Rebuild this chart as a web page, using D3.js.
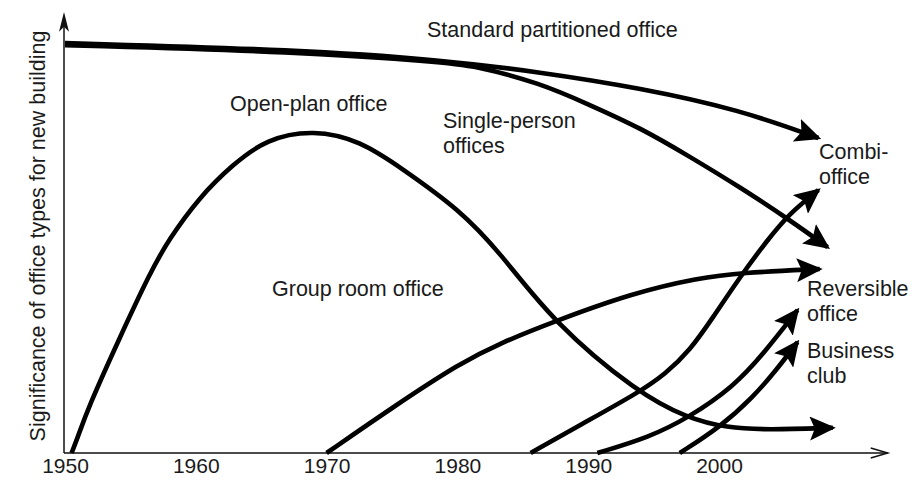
<!DOCTYPE html>
<html><head><meta charset="utf-8">
<script src="https://cdn.jsdelivr.net/npm/d3@7"></script>
<style>
body{margin:0;background:#fff}
svg text{font-family:"Liberation Sans",Arial,Helvetica,sans-serif;fill:#1a1a1a}
</style>
</head><body>
<svg id="chart" width="912" height="486"></svg>
<script>
// ---- data (year, significance 0-100) ----
const tickYears = [1950, 1960, 1970, 1980, 1990, 2000];

const standardYears  = [1950, 1968, 1978.7, 1986.3, 1994.0, 2001.6, 2007.6];
const standardValues = [97.6, 96.0, 93.6, 90.7, 86.9, 81.7, 75.0];

const singleYears  = [1950, 1968, 1978.7, 1981.2, 1986.3, 1990.1, 1994.0, 1997.8, 2001.6, 2005.4, 2008.3];
const singleValues = [97.1, 95.5, 93.1, 92.3, 88.1, 82.9, 77.4, 70.5, 63.3, 55.5, 49.0];

const openPlanYears  = [1950.5, 1950.9, 1951.8, 1954.1, 1956.5, 1957.9, 1960.3, 1962.8, 1965.4, 1969.0, 1972.6, 1975.6, 1980.2, 1983.3, 1987.3, 1993.8, 1997.6, 2000.6, 2003.7, 2008.7];
const openPlanValues = [0, 3.1, 11.0, 26.9, 42.9, 50.7, 61.0, 68.6, 74.8, 77.0, 74.3, 68.1, 57.9, 47.6, 31.2, 14.3, 8.3, 6.0, 5.5, 6.0];

const groupYears  = [1970.0, 1975.1, 1980.2, 1983.3, 1987.3, 1993.4, 1998.5, 2001.6, 2007.7];
const groupValues = [0, 11.0, 21.4, 26.2, 31.2, 38.1, 41.7, 42.9, 43.8];

const combiYears  = [1985.6, 1989.4, 1993.8, 1995.9, 1997.8, 1999.5, 2001.6, 2003.7, 2005.4, 2007.6];
const combiValues = [0, 6.7, 14.3, 18.8, 24.5, 32.1, 41.9, 50.7, 57.1, 62.6];

const reversibleYears  = [1990.7, 1994.7, 1997.6, 2001.1, 2003.5, 2006.0];
const reversibleValues = [0, 3.8, 8.3, 15.7, 24.0, 34.0];

const businessYears  = [1997.0, 2000.1, 2002.6, 2004.4, 2006.0];
const businessValues = [0, 6.2, 13.3, 19.8, 26.4];

const series = [
  {name: "standard", years: standardYears, values: standardValues},
  {name: "single", years: singleYears, values: singleValues},
  {name: "openPlan", years: openPlanYears, values: openPlanValues},
  {name: "group", years: groupYears, values: groupValues},
  {name: "combi", years: combiYears, values: combiValues},
  {name: "reversible", years: reversibleYears, values: reversibleValues},
  {name: "business", years: businessYears, values: businessValues}
];

const labels = [
  {lines: ["Standard partitioned office"], x: 427, y: 37},
  {lines: ["Open-plan office"], x: 230, y: 111},
  {lines: ["Single-person", "offices"], x: 443, y: 128},
  {lines: ["Group room office"], x: 272, y: 296},
  {lines: ["Combi-", "office"], x: 819, y: 159},
  {lines: ["Reversible", "office"], x: 807, y: 296},
  {lines: ["Business", "club"], x: 807, y: 358}
];

// ---- drawing ----
const svg = d3.select("#chart");
const x = d3.scaleLinear().domain([1950, 2000]).range([65, 719]);
const y = d3.scaleLinear().domain([0, 100]).range([453, 33]);

const defs = svg.append("defs");
defs.append("marker")
  .attr("id", "head").attr("markerUnits", "userSpaceOnUse")
  .attr("viewBox", "0 0 26 24").attr("markerWidth", 26).attr("markerHeight", 24)
  .attr("refX", 23).attr("refY", 12).attr("orient", "auto")
  .append("path").attr("d", "M0,0 L26,12 L0,24 L5,12 Z").attr("fill", "#000");

// axes
const x0 = x(1950) - 1;
svg.append("line").attr("x1", x0).attr("x2", x0).attr("y1", y(0)).attr("y2", y(104))
  .attr("stroke", "#111").attr("stroke-width", 1.5);
svg.append("path")
  .attr("d", `M${x0},${y(105)} L${x0 - 5},${y(100.3)} L${x0},${y(101.5)} L${x0 + 5},${y(100.3)} Z`)
  .attr("fill", "#111");
const xEnd = x(2012.9);
svg.append("line").attr("x1", x0).attr("x2", xEnd).attr("y1", y(0)).attr("y2", y(0))
  .attr("stroke", "#111").attr("stroke-width", 1.5);
svg.append("path")
  .attr("d", `M${xEnd - 17},${y(0) - 5} L${xEnd},${y(0)} L${xEnd - 17},${y(0) + 5}`)
  .attr("fill", "none").attr("stroke", "#111").attr("stroke-width", 1.5);

const xAxis = d3.axisBottom(x).tickValues(tickYears).tickFormat(d3.format("d"))
  .tickSize(0).tickPadding(5);
const gx = svg.append("g").attr("transform", `translate(0,${y(0)})`).call(xAxis);
gx.select(".domain").remove();
gx.selectAll("text").style("font-size", "21px").attr("fill", "#1a1a1a")
  .style("font-family", '"Liberation Sans",Arial,Helvetica,sans-serif');

svg.append("text")
  .attr("transform", `translate(45,236) rotate(-90)`)
  .attr("text-anchor", "middle").style("font-size", "21.5px")
  .text("Significance of office types for new building");

// curves
const line = d3.line()
  .x(d => x(d[0])).y(d => y(d[1]))
  .curve(d3.curveBasis);

svg.append("g").selectAll("path").data(series).join("path")
  .attr("d", s => line(s.years.map((yr, i) => [yr, s.values[i]])))
  .attr("fill", "none").attr("stroke", "#000").attr("stroke-width", 4.6)
  .attr("marker-end", "url(#head)");

// labels
const lg = svg.append("g");
labels.forEach(l => {
  const t = lg.append("text").attr("x", l.x).attr("y", l.y).style("font-size", "21.5px");
  l.lines.forEach((ln, i) => {
    t.append("tspan").attr("x", l.x).attr("dy", i === 0 ? 0 : 25).text(ln);
  });
});
</script>
</body></html>
